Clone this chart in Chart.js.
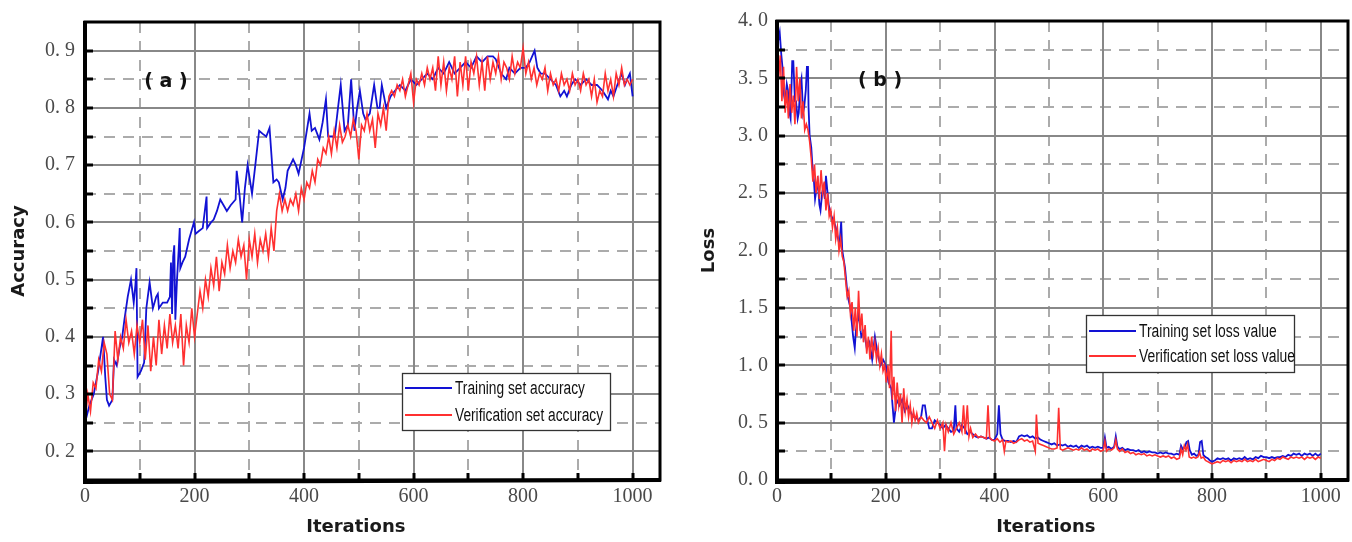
<!DOCTYPE html>
<html><head><meta charset="utf-8">
<script src="https://cdn.jsdelivr.net/npm/chart.js@4.4.1/dist/chart.umd.min.js"></script>
<style>
html,body{margin:0;padding:0;background:#fff;width:1352px;height:542px;overflow:hidden}
canvas{position:absolute;top:0}
</style></head>
<body>
<canvas id="ca" width="680" height="542" style="left:0px"></canvas>
<canvas id="cb" width="662" height="542" style="left:690px"></canvas>
<script>
// ---------- tick labels / axes ----------
const xTicks = [0, 200, 400, 600, 800, 1000];
const xMinorTicks = [100, 300, 500, 700, 900];
const accTicks = [0.2, 0.3, 0.4, 0.5, 0.6, 0.7, 0.8, 0.9];
const accMinorTicks = [0.25, 0.35, 0.45, 0.55, 0.65, 0.75, 0.85];
const lossTicks = [0, 0.5, 1.0, 1.5, 2.0, 2.5, 3.0, 3.5, 4.0];
const lossMinorTicks = [0.25, 0.75, 1.25, 1.75, 2.25, 2.75, 3.25, 3.75];

// ---------- (a) training set accuracy ----------
const trainAccIter = [0,8,16,24,33,37,40,44,50,53, 58,63,68,72,78,84,89,92,94,96,
 102,108,112,118,124,130,133,135,142,150, 155,157,159,161,163,165,168,171,173,174,
 178,183,190,199,202,208,215,222,223,230, 235,241,247,253,259,266,275,277,282,287,
 292,297,305,311,318,324,331,337,344,350, 354,361,366,370,380,385,390,400,410,414,
 420,428,434,440,444,450,456,462,467,474, 480,486,492,497,502,508,512,520,528,534,
 538,542,546,550,558,566,575,585,595,605, 615,625,635,645,655,665,675,685,695,705,
 715,725,735,745,750,760,769,775,785,795, 805,812,821,826,832,840,850,860,868,875,
 880,888,895,905,915,925,935,945,955,960, 965,972,980,986,990,995,1000];
const trainAcc = [0.25,0.28,0.30,0.34,0.40,0.33,0.29,0.28,0.29,0.36, 0.35,0.38,0.40,0.43,0.47,0.50,0.46,0.49,0.52,0.33,
 0.34,0.355,0.45,0.495,0.45,0.47,0.475,0.45,0.46,0.46, 0.47,0.53,0.44,0.54,0.56,0.43,0.50,0.55,0.59,0.52,
 0.53,0.54,0.57,0.60,0.58,0.585,0.59,0.645,0.59,0.60, 0.605,0.62,0.64,0.63,0.62,0.63,0.64,0.69,0.65,0.60,
 0.66,0.70,0.65,0.70,0.76,0.755,0.75,0.765,0.67,0.675, 0.67,0.64,0.66,0.69,0.71,0.70,0.685,0.73,0.79,0.76,
 0.765,0.745,0.775,0.815,0.75,0.75,0.75,0.80,0.84,0.76, 0.77,0.85,0.76,0.80,0.83,0.79,0.78,0.79,0.84,0.80,
 0.80,0.84,0.82,0.80,0.82,0.83,0.84,0.83,0.85,0.84, 0.85,0.86,0.85,0.87,0.86,0.88,0.86,0.87,0.88,0.87,
 0.89,0.88,0.89,0.89,0.885,0.86,0.85,0.87,0.86,0.87, 0.87,0.88,0.90,0.87,0.86,0.86,0.85,0.84,0.82,0.83,
 0.82,0.84,0.85,0.84,0.85,0.84,0.84,0.83,0.815,0.83, 0.82,0.84,0.86,0.84,0.85,0.86,0.82];

// ---------- (a) verification set accuracy (every 5 iterations) ----------
const valAcc = [
 0.25,0.30,0.27,0.32,0.31,0.36,0.34,0.39,0.37,0.30,
 0.29,0.41,0.36,0.40,0.38,0.43,0.39,0.41,0.37,0.42,
 0.39,0.43,0.36,0.42,0.34,0.40,0.35,0.43,0.37,0.42,
 0.38,0.44,0.39,0.42,0.38,0.44,0.35,0.42,0.39,0.45,
 0.40,0.44,0.48,0.45,0.50,0.47,0.52,0.49,0.54,0.48,
 0.53,0.51,0.56,0.52,0.55,0.53,0.57,0.54,0.56,0.50,
 0.57,0.54,0.58,0.53,0.57,0.55,0.58,0.54,0.59,0.55,
 0.62,0.65,0.62,0.64,0.62,0.64,0.63,0.65,0.62,0.66,
 0.64,0.67,0.66,0.69,0.67,0.71,0.70,0.73,0.72,0.75,
 0.72,0.76,0.73,0.77,0.74,0.75,0.77,0.75,0.78,0.76,
 0.71,0.77,0.76,0.79,0.76,0.78,0.73,0.79,0.77,0.80,
 0.76,0.82,0.83,0.82,0.84,0.83,0.85,0.82,0.84,0.86,
 0.81,0.85,0.84,0.86,0.84,0.87,0.85,0.87,0.83,0.89,
 0.84,0.88,0.83,0.87,0.85,0.89,0.82,0.88,0.84,0.89,
 0.83,0.88,0.86,0.89,0.84,0.88,0.83,0.89,0.85,0.88,
 0.86,0.89,0.85,0.88,0.87,0.85,0.89,0.86,0.88,0.87,
 0.905,0.86,0.88,0.85,0.87,0.84,0.86,0.85,0.87,0.83,
 0.86,0.84,0.85,0.83,0.86,0.84,0.85,0.83,0.86,0.84,
 0.85,0.83,0.86,0.84,0.85,0.82,0.85,0.81,0.83,0.82,
 0.86,0.83,0.85,0.82,0.86,0.84,0.87,0.84,0.85,0.84,
 0.85];
const valAccIter = valAcc.map((_, i) => i * 5);

// ---------- (b) training set loss ----------
const trainLossIter = [0,3,5,8,10,13,15,18,20,23, 25,28,30,33,35,38,40,43,45,48,
 50,53,55,57,58,60,63,65,68,70, 73,75,78,80,83,85,88,90,93,95,
 100,105,108,110,115,118,120,125,130,135, 140,143,145,150,155,160,165,170,175,180,
 185,190,195,200,205,210,215,220,225,230, 235,240,245,250,255,260,265,268,272,275,
 280,285,290,295,300,305,310,315,320,325, 328,330,335,340,345,350,355,360,365,370,
 375,380,385,390,395,400,405,408,411,415, 420,425,430,435,440,445,450,455,460,465,
 470,475,480,485,490,495,500,505,510,515, 520,525,530,535,540,545,550,555,560,565,
 570,575,580,585,590,595,600,603,606,610, 615,620,623,626,630,635,640,645,650,655,
 660,665,670,675,680,685,690,695,700,705, 710,715,720,725,730,735,740,743,746,750,
 753,756,759,763,767,771,775,778,781,784, 788,792,796,800,805,810,815,820,825,830,
 835,840,845,850,855,860,865,870,875,880, 885,890,895,900,905,910,915,920,925,930,
 935,940,945,950,955,960,965,970,975,980, 985,990,995,1000];
const trainLoss = [3.95,3.85,3.9,3.7,3.6,3.35,3.3,3.45,3.4,3.2, 3.15,3.65,3.65,3.3,3.3,3.15,3.2,3.45,3.5,3.2,
 3.25,3.4,3.6,3.6,3.25,3.0,2.9,2.75,2.6,2.45, 2.55,2.6,2.4,2.35,2.5,2.55,2.45,2.65,2.5,2.4,
 2.3,2.25,2.2,2.15,2.05,2.25,2.0,1.85,1.6,1.5, 1.25,1.15,1.3,1.45,1.25,1.3,1.15,1.2,1.05,1.25,
 1.1,1.0,1.05,1.0,0.85,0.8,0.5,0.7,0.65,0.7, 0.6,0.65,0.6,0.55,0.55,0.52,0.55,0.65,0.65,0.55,
 0.45,0.45,0.52,0.5,0.48,0.45,0.48,0.45,0.42,0.43, 0.65,0.45,0.42,0.48,0.45,0.4,0.42,0.4,0.38,0.37,
 0.38,0.37,0.36,0.37,0.35,0.35,0.4,0.65,0.4,0.35, 0.34,0.34,0.33,0.34,0.33,0.38,0.39,0.38,0.39,0.37,
 0.38,0.36,0.37,0.35,0.34,0.33,0.32,0.31,0.32,0.3, 0.31,0.3,0.31,0.29,0.3,0.29,0.3,0.28,0.3,0.29,
 0.3,0.28,0.29,0.28,0.29,0.28,0.28,0.37,0.28,0.29, 0.27,0.29,0.38,0.29,0.27,0.28,0.26,0.27,0.26,0.26,
 0.25,0.26,0.24,0.25,0.24,0.25,0.24,0.24,0.23,0.24, 0.23,0.24,0.23,0.23,0.22,0.23,0.22,0.3,0.27,0.29,
 0.33,0.34,0.26,0.22,0.23,0.21,0.22,0.33,0.34,0.22, 0.2,0.19,0.17,0.16,0.17,0.19,0.18,0.19,0.18,0.19,
 0.17,0.19,0.18,0.19,0.18,0.2,0.18,0.19,0.18,0.2, 0.19,0.21,0.2,0.2,0.19,0.2,0.19,0.2,0.2,0.21,
 0.2,0.22,0.21,0.23,0.22,0.23,0.21,0.23,0.22,0.23, 0.21,0.23,0.21,0.23];

// ---------- (b) verification set loss ----------
const valLossIter = [0,3,6,9,12,15,18,21,24,27, 30,33,36,39,42,45,48,51,54,57,
 60,63,66,69,72,75,78,81,84,87, 90,93,96,99,102,105,108,111,114,117,
 120,123,126,129,132,135,138,141,144,147, 150,153,156,159,162,165,168,171,174,177,
 180,183,186,189,192,195,198,201,204,207, 210,212,215,218,221,224,227,230,233,236,
 239,242,245,248,251,254,257,260,265,270, 275,280,285,290,295,300,305,308,311,315,
 320,325,330,335,340,343,346,350,353,356, 360,365,370,375,380,385,388,391,395,400,
 405,410,415,418,421,425,430,435,440,445, 450,455,460,465,470,475,477,480,485,490,
 495,500,505,510,515,518,521,525,530,535, 540,545,550,555,560,565,570,575,580,585,
 590,595,600,603,606,610,615,620,623,626, 630,635,640,645,650,655,660,665,670,675,
 680,685,690,695,700,705,710,715,720,725, 730,735,740,743,746,749,752,755,758,762,
 766,770,774,777,780,784,788,792,796,800, 805,810,815,820,825,830,835,840,845,850,
 855,860,865,870,875,880,885,890,895,900, 905,910,915,920,925,930,935,940,945,950,
 955,960,965,970,975,980,985,990,995,1000];
const valLoss = [3.85,3.5,3.7,3.3,3.6,3.2,3.4,3.15,3.45,3.2, 3.35,3.1,3.6,3.3,3.5,3.15,3.3,3.05,3.1,3.05,
 2.95,2.8,2.6,2.75,2.5,2.65,2.45,2.7,2.5,2.6, 2.35,2.5,2.3,2.35,2.2,2.3,2.1,2.2,2.0,2.1,
 1.95,1.9,1.75,1.6,1.65,1.45,1.55,1.3,1.5,1.25, 1.65,1.3,1.45,1.2,1.35,1.1,1.25,1.05,1.25,1.1,
 1.2,1.05,1.15,1.0,1.1,0.95,1.0,0.85,1.0,0.8, 1.3,0.7,0.9,0.6,0.85,0.65,0.75,0.5,0.8,0.6,
 0.7,0.55,0.65,0.5,0.6,0.52,0.58,0.5,0.55,0.52, 0.5,0.55,0.5,0.45,0.52,0.45,0.5,0.25,0.48,0.42,
 0.5,0.4,0.45,0.5,0.42,0.65,0.4,0.65,0.38,0.45, 0.37,0.4,0.37,0.38,0.37,0.36,0.65,0.37,0.35,0.34,
 0.36,0.33,0.35,0.25,0.34,0.33,0.34,0.32,0.33,0.35, 0.36,0.34,0.35,0.33,0.34,0.25,0.57,0.32,0.31,0.3,
 0.29,0.28,0.27,0.27,0.28,0.63,0.27,0.26,0.27,0.28, 0.27,0.26,0.27,0.26,0.28,0.26,0.27,0.25,0.27,0.26,
 0.27,0.25,0.26,0.34,0.25,0.27,0.26,0.28,0.35,0.27, 0.25,0.27,0.24,0.25,0.23,0.24,0.22,0.23,0.22,0.23,
 0.21,0.22,0.21,0.22,0.21,0.2,0.21,0.2,0.21,0.19, 0.2,0.18,0.19,0.27,0.22,0.3,0.26,0.31,0.2,0.19,
 0.2,0.19,0.2,0.24,0.19,0.2,0.17,0.16,0.15,0.14, 0.15,0.16,0.15,0.17,0.16,0.17,0.15,0.17,0.16,0.17,
 0.16,0.18,0.16,0.17,0.16,0.18,0.16,0.17,0.18,0.17, 0.16,0.18,0.17,0.19,0.18,0.2,0.19,0.18,0.2,0.19,
 0.2,0.19,0.2,0.18,0.2,0.19,0.2,0.18,0.2,0.19];

// ---------- styling ----------
const BLUE = '#1212d4', RED = '#ff3030';
const toPts = (xs, ys) => xs.map((x, i) => ({ x, y: ys[i] }));
const fmtY = v => v.toFixed(1).replace('.', '. ');

const deco = {
  id: 'deco',
  beforeDatasetsDraw(chart, _a, o) {
    const { ctx, chartArea: a, scales: { x, y } } = chart;
    ctx.save();
    ctx.lineWidth = 2;
    ctx.strokeStyle = '#ababab';
    ctx.setLineDash([11, 8]);
    o.xMinor.forEach(v => { const p = Math.round(x.getPixelForValue(v)); ctx.beginPath(); ctx.moveTo(p, a.top); ctx.lineTo(p, a.bottom); ctx.stroke(); });
    o.yMinor.forEach(v => { const p = Math.round(y.getPixelForValue(v)); ctx.beginPath(); ctx.moveTo(a.left, p); ctx.lineTo(a.right, p); ctx.stroke(); });
    ctx.setLineDash([]);
    ctx.strokeStyle = '#888';
    o.xMajor.forEach(v => { const p = Math.round(x.getPixelForValue(v)); ctx.beginPath(); ctx.moveTo(p, a.top); ctx.lineTo(p, a.bottom); ctx.stroke(); });
    o.yMajor.forEach(v => { const p = Math.round(y.getPixelForValue(v)); ctx.beginPath(); ctx.moveTo(a.left, p); ctx.lineTo(a.right, p); ctx.stroke(); });
    ctx.restore();
  },
  afterDatasetsDraw(chart, _a, o) {
    const { ctx, chartArea: a, scales: { x, y } } = chart;
    ctx.save();
    // frame
    ctx.strokeStyle = '#000';
    ctx.lineWidth = 3;
    ctx.strokeRect(a.left, a.top, a.right - a.left, a.bottom - a.top);
    ctx.lineWidth = 4;
    ctx.beginPath(); ctx.moveTo(a.left, a.top - 1); ctx.lineTo(a.left, a.bottom + 2); ctx.lineTo(a.right + 1, a.bottom); ctx.stroke();
    // ticks
    ctx.lineWidth = 3;
    [...o.yMajor, ...o.yMinor].forEach(v => { const p = Math.round(y.getPixelForValue(v)); ctx.beginPath(); ctx.moveTo(a.left, p); ctx.lineTo(a.left + 8, p); ctx.stroke(); });
    [0, ...o.xMajor, ...o.xMinor].forEach(v => { const p = Math.round(x.getPixelForValue(v)); ctx.beginPath(); ctx.moveTo(p, a.bottom); ctx.lineTo(p, a.bottom - 7); ctx.stroke(); });
    // legend
    const L = o.legend;
    const bx = a.left + L.dx, by = a.top + L.dy;
    ctx.fillStyle = '#fff';
    ctx.fillRect(bx, by, L.w, L.h);
    ctx.strokeStyle = '#333'; ctx.lineWidth = 1.3;
    ctx.strokeRect(bx + 0.5, by + 0.5, L.w, L.h);
    ctx.font = '18px "Liberation Sans", Arial, sans-serif';
    const ds = L.order.map(i => chart.data.datasets[i]);
    const longest = ds.reduce((m, d) => Math.max(m, ctx.measureText(d.label).width), 0);
    const sx = L.textW / longest;
    ds.forEach((d, i) => {
      const yy = by + L.rows[i];
      ctx.strokeStyle = d.borderColor; ctx.lineWidth = 2;
      ctx.beginPath(); ctx.moveTo(bx + 3, yy); ctx.lineTo(bx + 50, yy); ctx.stroke();
      ctx.save(); ctx.translate(bx + 53, yy); ctx.scale(sx, 1);
      ctx.fillStyle = '#111'; ctx.textBaseline = 'middle'; ctx.textAlign = 'left';
      ctx.fillText(d.label, 0, 1);
      ctx.restore();
    });
    // panel label
    ctx.font = 'bold 19px "DejaVu Sans", sans-serif';
    ctx.fillStyle = '#111'; ctx.textAlign = 'center'; ctx.textBaseline = 'middle';
    ctx.fillText(o.tag, a.left + o.tagDx, a.top + o.tagDy);
    // x title centred on the 0..1000 range
    ctx.font = 'bold 18px "DejaVu Sans", sans-serif';
    ctx.fillStyle = '#1a1a1a';
    ctx.fillText('Iterations', x.getPixelForValue(500) - 3, chart.height - 15);
    ctx.restore();
  }
};

function build(id, cfg) {
  return new Chart(document.getElementById(id), {
    type: 'line',
    data: { datasets: cfg.datasets },
    plugins: [deco],
    options: {
      responsive: false, animation: false, devicePixelRatio: 1,
      layout: { padding: { left: 0, right: cfg.padRight, top: 18, bottom: 0 } },
      elements: { point: { radius: 0 }, line: { tension: 0, borderWidth: 1.8 } },
      plugins: { legend: { display: false }, tooltip: { enabled: false }, deco: cfg.deco },
      scales: {
        x: {
          type: 'linear', min: 0, max: 1050,
          afterBuildTicks: s => { s.ticks = xTicks.map(v => ({ value: v })); },
          afterFit: s => { s.height = 62; },
          grid: { display: false, drawTicks: false }, border: { display: false },
          ticks: { autoSkip: false, maxRotation: 0, padding: 5, color: '#4a4a4a',
                   font: { family: '"Liberation Serif", serif', size: 20 }, callback: v => String(v) }
        },
        y: {
          type: 'linear', min: cfg.yMin, max: cfg.yMax,
          afterBuildTicks: s => { s.ticks = cfg.yTicks.map(v => ({ value: v })); },
          afterFit: s => { s.width = cfg.yWidth; },
          grid: { display: false, drawTicks: false }, border: { display: false },
          ticks: { autoSkip: false, padding: cfg.yPad, color: '#4a4a4a',
                   font: { family: '"Liberation Serif", serif', size: 20 }, callback: fmtY },
          title: { display: true, text: cfg.yTitle, color: '#1a1a1a', padding: { top: 9, bottom: 0 },
                   font: { family: '"DejaVu Sans", sans-serif', size: 18, weight: 'bold' } }
        }
      }
    }
  });
}

build('ca', {
  datasets: [
    { label: 'Verification set accuracy', data: toPts(valAccIter, valAcc), borderColor: RED, borderWidth: 1.6 },
    { label: 'Training set accuracy', data: toPts(trainAccIter, trainAcc), borderColor: BLUE, borderWidth: 1.8 }
  ],
  yMin: 0.15, yMax: 0.95, yTicks: accTicks, yWidth: 85, yPad: 10, yTitle: 'Accuracy', padRight: 20,
  deco: { xMajor: [200, 400, 600, 800, 1000], xMinor: xMinorTicks, yMajor: accTicks, yMinor: accMinorTicks,
          legend: { dx: 317, dy: 351, w: 208, h: 57, rows: [15, 42], textW: 148, order: [1, 0] },
          tag: '( a )', tagDx: 81, tagDy: 60 }
});

build('cb', {
  datasets: [
    { label: 'Verification set loss value', data: toPts(valLossIter, valLoss), borderColor: RED, borderWidth: 1.6 },
    { label: 'Training set loss value', data: toPts(trainLossIter, trainLoss), borderColor: BLUE, borderWidth: 1.8 }
  ],
  yMin: 0, yMax: 4, yTicks: lossTicks, yWidth: 87, yPad: 9, yTitle: 'Loss', padRight: 4,
  deco: { xMajor: [200, 400, 600, 800, 1000], xMinor: xMinorTicks, yMajor: lossTicks.slice(1, -1), yMinor: lossMinorTicks,
          legend: { dx: 309, dy: 294, w: 208, h: 57, rows: [16, 41], textW: 156, order: [1, 0] },
          tag: '( b )', tagDx: 103, tagDy: 60 }
});
</script>
</body></html>
